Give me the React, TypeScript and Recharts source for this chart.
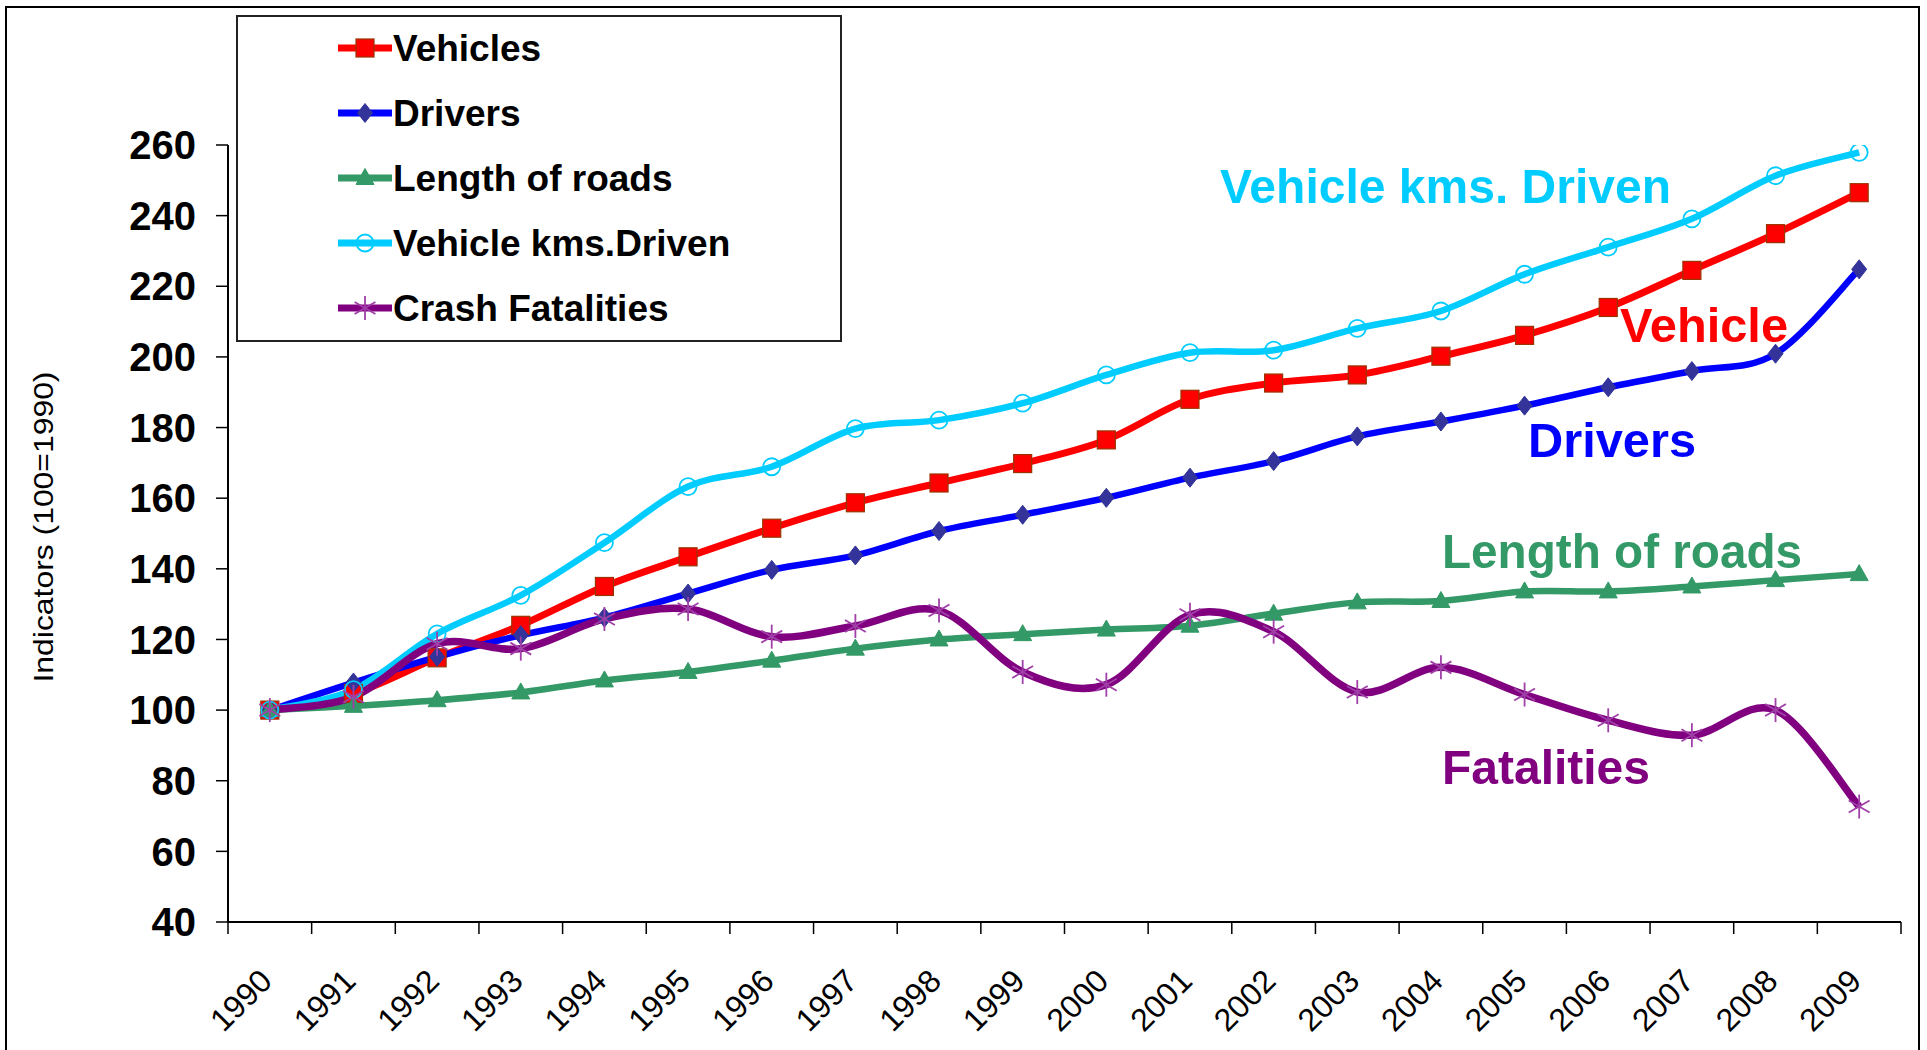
import React from 'react';
import { LineChart, Line, XAxis, YAxis, Legend } from 'recharts';

// ---------- data ----------
const years = ['1990', '1991', '1992', '1993', '1994', '1995', '1996', '1997', '1998', '1999',
  '2000', '2001', '2002', '2003', '2004', '2005', '2006', '2007', '2008', '2009'];
const vehicles = [100, 104.7, 114.8, 124, 135, 143.4, 151.5, 158.7, 164.3, 169.8,
  176.5, 188, 192.6, 194.9, 200.2, 206.1, 214, 224.5, 234.9, 246.5];
const drivers = [100, 107.8, 115.1, 121.2, 126.2, 133, 139.7, 143.8, 150.7, 155.3,
  160.1, 165.8, 170.5, 177.5, 181.7, 186.2, 191.4, 196, 200.9, 224.8];
const roads = [100, 101.2, 102.8, 105, 108.4, 110.8, 114, 117.4, 120, 121.5,
  122.8, 123.9, 127.3, 130.5, 130.9, 133.6, 133.6, 135, 136.8, 138.5];
const vkd = [100, 105.8, 121.6, 132.5, 147.4, 163.3, 168.9, 179.7, 182.1, 186.9,
  194.9, 201.2, 201.9, 208.1, 213, 223.4, 231.1, 239.1, 251.3, 257.9];
const fatalities = [100, 103.8, 118.8, 117.4, 125.8, 128.6, 120.8, 123.8, 128.2, 110.8,
  107.2, 127, 122.2, 105.1, 112.1, 104.4, 97.1, 92.9, 100, 72.7];
const yTicks = [40, 60, 80, 100, 120, 140, 160, 180, 200, 220, 240, 260];

const seriesNames = ['Vehicles', 'Drivers', 'Length of roads', 'Vehicle kms.Driven', 'Crash Fatalities'];
const seriesKeys = ['vehicles', 'drivers', 'roads', 'vkd', 'fatalities'];

const data = years.map((year, i) => ({
  year,
  vehicles: vehicles[i],
  drivers: drivers[i],
  roads: roads[i],
  vkd: vkd[i],
  fatalities: fatalities[i],
}));

// ---------- layout ----------
const W = 1927;
const H = 1050;
const PLOT_L = 228;
const PLOT_R = 1901;
const PLOT_T = 145;
const PLOT_B = 922;
const BAND = (PLOT_R - PLOT_L) / years.length;
const FONT = '"Liberation Sans", Arial, Helvetica, sans-serif';

const COLORS: Record<string, string> = {
  vehicles: '#ff0000',
  drivers: '#0000ff',
  roads: '#339966',
  vkd: '#00ccff',
  fatalities: '#800080',
};

// Excel-like smoothed curve (Catmull-Rom as cubic Bezier)
const excelCurve: any = (context: any) => {
  let pts: number[][] = [];
  return {
    areaStart() {},
    areaEnd() {},
    lineStart() { pts = []; },
    point(x: number, y: number) { pts.push([+x, +y]); },
    lineEnd() {
      const n = pts.length;
      if (!n) return;
      context.moveTo(pts[0][0], pts[0][1]);
      for (let i = 0; i < n - 1; i++) {
        const p0 = pts[Math.max(i - 1, 0)];
        const p1 = pts[i];
        const p2 = pts[i + 1];
        const p3 = pts[Math.min(i + 2, n - 1)];
        context.bezierCurveTo(
          p1[0] + (p2[0] - p0[0]) / 6, p1[1] + (p2[1] - p0[1]) / 6,
          p2[0] - (p3[0] - p1[0]) / 6, p2[1] - (p3[1] - p1[1]) / 6,
          p2[0], p2[1],
        );
      }
    },
  };
};

const Marker = ({ kind, cx, cy }: { kind: string; cx: number; cy: number }) => {
  if (cx == null || cy == null) return null;
  if (kind === 'vehicles') {
    return <rect x={cx - 9} y={cy - 9} width={18} height={18} fill="#ff0000" stroke="#993300" strokeWidth={1.2} />;
  }
  if (kind === 'drivers') {
    return <path d={`M${cx},${cy - 9.5} L${cx + 7.5},${cy} L${cx},${cy + 9.5} L${cx - 7.5},${cy} Z`} fill="#333399" stroke="#333399" strokeWidth={1} />;
  }
  if (kind === 'roads') {
    return <path d={`M${cx},${cy - 9.5} L${cx + 9},${cy + 6.5} L${cx - 9},${cy + 6.5} Z`} fill="#339966" stroke="#339966" strokeWidth={1} />;
  }
  if (kind === 'vkd') {
    return <circle cx={cx} cy={cy} r={8.5} fill="none" stroke="#00ccff" strokeWidth={1.8} />;
  }
  // asterisk
  const r = 12;
  const d = r * 0.87;
  const e = r * 0.5;
  return (
    <g stroke="#a040a8" strokeWidth={1.8}>
      <line x1={cx} y1={cy - r} x2={cx} y2={cy + r} />
      <line x1={cx - d} y1={cy - e} x2={cx + d} y2={cy + e} />
      <line x1={cx - d} y1={cy + e} x2={cx + d} y2={cy - e} />
    </g>
  );
};

const makeDot = (kind: string) => (p: any) => (
  <Marker key={`${kind}-${p.index}`} kind={kind} cx={p.cx} cy={p.cy} />
);

const XTick = (props: any) => {
  const { x, payload, index } = props;
  const left = x - BAND / 2;
  const tx = x + 4;
  const ty = PLOT_B + 61;
  return (
    <g>
      <line x1={left} x2={left} y1={PLOT_B} y2={PLOT_B + 12} stroke="#000" strokeWidth={1.5} />
      {index === years.length - 1 && (
        <line x1={x + BAND / 2} x2={x + BAND / 2} y1={PLOT_B} y2={PLOT_B + 12} stroke="#000" strokeWidth={1.5} />
      )}
      <text x={tx} y={ty} textAnchor="end" transform={`rotate(-45, ${tx}, ${ty})`}
        fontFamily={FONT} fontSize={32} fill="#000">{payload.value}</text>
    </g>
  );
};

const LEG_W = 606;
const LEG_H = 327;

const renderLegend = (props: any) => {
  const payload = [...(props.payload || [])].sort(
    (a: any, b: any) => seriesKeys.indexOf(a.dataKey) - seriesKeys.indexOf(b.dataKey),
  );
  return (
    <svg width={LEG_W} height={LEG_H} style={{ display: 'block' }}>
      <rect x={1} y={1} width={LEG_W - 2} height={LEG_H - 2} fill="#fff" stroke="#222" strokeWidth={2} />
      {payload.map((p: any, i: number) => {
        const cy = 33 + i * 65;
        const key = String(p.dataKey);
        return (
          <g key={key}>
            <line x1={102} x2={156} y1={cy} y2={cy} stroke={COLORS[key]} strokeWidth={7} />
            <Marker kind={key} cx={129} cy={cy} />
            <text x={157} y={cy + 13} fontFamily={FONT} fontWeight="bold" fontSize={37} fill="#000">{p.value}</text>
          </g>
        );
      })}
    </svg>
  );
};

const annotations = [
  { text: 'Vehicle kms. Driven', color: '#00ccff', x: 1220, y: 203, len: 451 },
  { text: 'Vehicle', color: '#ff0000', x: 1620, y: 342, len: 168 },
  { text: 'Drivers', color: '#0000ff', x: 1528, y: 457, len: 168 },
  { text: 'Length of roads', color: '#339966', x: 1442, y: 568, len: 360 },
  { text: 'Fatalities', color: '#800080', x: 1442, y: 784, len: 208 },
];

export default function App() {
  return (
    <div style={{ position: 'absolute', left: 0, top: 0, width: W, height: H, overflow: 'hidden', background: '#fff' }}>
      <div style={{ position: 'absolute', left: 5, top: 6, width: 1911, height: 1100, border: '2px solid #000' }} />
      <div style={{ position: 'absolute', left: 0, top: 0 }}>
        <LineChart width={W} height={H} data={data}
          margin={{ top: PLOT_T, right: W - PLOT_R, bottom: 0, left: 0 }}>
          <XAxis dataKey="year" height={H - PLOT_B} interval={0}
            padding={{ left: BAND / 2, right: BAND / 2 }}
            axisLine={{ stroke: '#000', strokeWidth: 2 }} tickLine={false} tickSize={12}
            tick={<XTick />} />
          <XAxis xAxisId="top" orientation="top" dataKey="year" height={0} tick={false} tickLine={false}
            padding={{ left: BAND / 2, right: BAND / 2 }}
            axisLine={{ stroke: '#a0a0a0', strokeWidth: 1.5 }} />
          <YAxis domain={[40, 260]} ticks={yTicks} interval={0} width={PLOT_L}
            tickSize={12} tickMargin={20} allowDataOverflow
            axisLine={{ stroke: '#000', strokeWidth: 2 }}
            tickLine={{ stroke: '#000', strokeWidth: 1.5 }}
            tick={{ fontFamily: FONT, fontSize: 40, fontWeight: 'bold', fill: '#000' }} />
          <YAxis yAxisId="right" orientation="right" width={0} domain={[40, 260]} tick={false} tickLine={false}
            axisLine={{ stroke: '#a0a0a0', strokeWidth: 1.5 }} />
          <Legend layout="vertical" align="center" verticalAlign="middle" content={renderLegend}
            wrapperStyle={{ left: 236, top: 15, width: LEG_W, height: LEG_H }} />
          <Line dataKey="vehicles" name={seriesNames[0]} type={excelCurve} stroke={COLORS.vehicles}
            strokeWidth={7} dot={makeDot('vehicles')} activeDot={false} isAnimationActive={false} />
          <Line dataKey="drivers" name={seriesNames[1]} type={excelCurve} stroke={COLORS.drivers}
            strokeWidth={6.5} dot={makeDot('drivers')} activeDot={false} isAnimationActive={false} />
          <Line dataKey="roads" name={seriesNames[2]} type={excelCurve} stroke={COLORS.roads}
            strokeWidth={6.5} dot={makeDot('roads')} activeDot={false} isAnimationActive={false} />
          <Line dataKey="vkd" name={seriesNames[3]} type={excelCurve} stroke={COLORS.vkd}
            strokeWidth={6.5} dot={makeDot('vkd')} activeDot={false} isAnimationActive={false} />
          <Line dataKey="fatalities" name={seriesNames[4]} type={excelCurve} stroke={COLORS.fatalities}
            strokeWidth={7.5} dot={makeDot('fatalities')} activeDot={false} isAnimationActive={false} />
        </LineChart>
      </div>
      <svg width={W} height={H} style={{ position: 'absolute', left: 0, top: 0, pointerEvents: 'none' }}>
        <text transform="translate(53,527) rotate(-90)" textAnchor="middle" fontFamily={FONT}
          fontSize={28} textLength={311} lengthAdjust="spacingAndGlyphs" fill="#000">Indicators (100=1990)</text>
        {annotations.map((a) => (
          <text key={a.text} x={a.x} y={a.y} fontFamily={FONT} fontWeight="bold" fontSize={49}
            textLength={a.len} lengthAdjust="spacingAndGlyphs" fill={a.color}>{a.text}</text>
        ))}
      </svg>
    </div>
  );
}
